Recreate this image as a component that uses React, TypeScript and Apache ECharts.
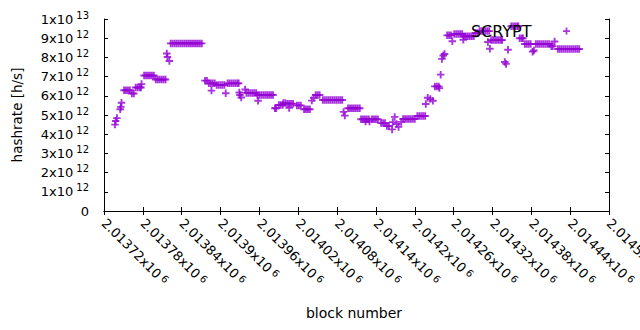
import React, { useEffect, useRef } from "react";
import * as echarts from "echarts";

// block numbers of each estimate
const blocks: number[] = [
  2013737, 2013738, 2013740, 2013745, 2013746, 2013747,
  2013751, 2013754, 2013757, 2013760,
  2013763, 2013766,
  2013769, 2013772, 2013775, 2013777, 2013778,
  2013782, 2013785, 2013788, 2013791, 2013794, 2013797,
  2013800, 2013803, 2013806, 2013809, 2013812, 2013815,
  2013817, 2013818, 2013821,
  2013823, 2013826, 2013829, 2013832, 2013835, 2013838, 2013841, 2013844, 2013847,
  2013850, 2013853, 2013856, 2013859, 2013862, 2013865, 2013868, 2013871,
  2013876, 2013879,
  2013882, 2013885, 2013888, 2013891, 2013886,
  2013894, 2013897, 2013900, 2013903, 2013906, 2013908,
  2013911, 2013914, 2013917, 2013920, 2013923, 2013926, 2013928,
  2013929, 2013930, 2013932, 2013938,
  2013940, 2013943, 2013946, 2013949, 2013952, 2013955,
  2013957, 2013960, 2013963, 2013966, 2013969, 2013972, 2013975, 2013978, 2013981, 2013958,
  2013984, 2013986,
  2013990, 2013993, 2013996,
  2013997, 2014000,
  2014003, 2014006, 2014009, 2014012, 2014006,
  2014018, 2014021, 2014024,
  2014029, 2014032, 2014035, 2014038,
  2014041, 2014044,
  2014047, 2014050, 2014053,
  2014058, 2014061, 2014064, 2014067, 2014070, 2014073, 2014076, 2014079, 2014082, 2014085, 2014088,
  2014090, 2014092,
  2014097, 2014100, 2014103, 2014106, 2014109, 2014112, 2014115,
  2014117, 2014120, 2014123, 2014126, 2014129, 2014124, 2014130,
  2014134, 2014137, 2014140, 2014143,
  2014148, 2014151, 2014154,
  2014157, 2014160,
  2014165, 2014166, 2014169,
  2014172, 2014175, 2014179,
  2014182, 2014185, 2014188, 2014191, 2014194, 2014197, 2014200,
  2014204, 2014207, 2014210, 2014213, 2014216,
  2014217, 2014220, 2014224, 2014228,
  2014231, 2014234, 2014237, 2014238,
  2014240, 2014242, 2014244, 2014246,
  2014250, 2014253, 2014256, 2014258,
  2014261, 2014264, 2014267, 2014270, 2014273, 2014275,
  2014276, 2014279, 2014282, 2014285, 2014288, 2014291,
  2014294, 2014297,
  2014300, 2014303, 2014306, 2014309, 2014312, 2014315,
  2014313, 2014316,
  2014318, 2014321, 2014324, 2014327, 2014330, 2014333, 2014335,
  2014339, 2014341, 2014344,
  2014349, 2014352, 2014355, 2014358, 2014360,
  2014362, 2014365, 2014367,
  2014370, 2014373, 2014376, 2014379,
  2014382, 2014384,
  2014387, 2014390, 2014393, 2014396, 2014399, 2014402, 2014405, 2014408,
  2014411, 2014413, 2014416,
  2014421, 2014424, 2014427, 2014430, 2014433, 2014436, 2014439, 2014442, 2014445, 2014448, 2014451, 2014454,
];

// hashrate in units of 10^12 h/s, same order as blocks
const hashrateT: number[] = [
  4.50, 4.69, 4.84, 5.30, 5.42, 5.64,
  6.29, 6.29, 6.29, 6.29,
  6.12, 6.12,
  6.43, 6.43, 6.43, 6.43, 6.61,
  7.06, 7.06, 7.06, 7.06, 7.06, 7.06,
  6.85, 6.85, 6.85, 6.85, 6.85, 6.85,
  8.20, 8.02, 7.81,
  8.73, 8.73, 8.73, 8.73, 8.73, 8.73, 8.73, 8.73, 8.73,
  8.73, 8.73, 8.73, 8.73, 8.73, 8.73, 8.73, 8.73,
  6.79, 6.79,
  6.65, 6.65, 6.65, 6.65, 6.27,
  6.56, 6.56, 6.56, 6.56, 6.56, 6.13,
  6.65, 6.65, 6.65, 6.65, 6.65, 6.65, 6.65,
  6.17, 6.04, 5.91, 6.33,
  6.15, 6.15, 6.15, 6.15, 6.15, 6.15,
  6.04, 6.04, 6.04, 6.04, 6.04, 6.04, 6.04, 6.04, 6.04, 5.74,
  5.35, 5.35,
  5.52, 5.52, 5.52,
  5.62, 5.62,
  5.59, 5.59, 5.59, 5.59, 5.37,
  5.50, 5.50, 5.50,
  5.30, 5.30, 5.30, 5.30,
  5.75, 5.90,
  6.04, 6.04, 6.04,
  5.78, 5.78, 5.78, 5.78, 5.78, 5.78, 5.78, 5.78, 5.78, 5.78, 5.78,
  5.16, 4.97,
  5.35, 5.35, 5.35, 5.35, 5.35, 5.35, 5.35,
  4.78, 4.78, 4.78, 4.78, 4.78, 4.66, 4.66,
  4.78, 4.78, 4.78, 4.78,
  4.58, 4.58, 4.58,
  4.43, 4.43,
  4.25, 4.63, 4.90,
  4.53, 4.38, 4.64,
  4.79, 4.79, 4.79, 4.79, 4.79, 4.79, 4.79,
  4.95, 4.95, 4.95, 4.95, 4.95,
  5.57, 5.90, 5.83, 5.74,
  6.49, 6.49, 6.49, 6.40,
  7.10, 7.92, 8.10, 8.18,
  9.15, 9.15, 9.15, 8.84,
  9.22, 9.22, 9.22, 9.22, 9.22, 8.92,
  9.10, 9.10, 9.10, 9.10, 9.10, 9.10,
  9.27, 9.27,
  9.37, 9.37, 9.37, 9.37, 9.37, 9.37,
  8.80, 8.45,
  8.90, 8.90, 8.90, 8.90, 8.90, 8.90, 8.90,
  7.76, 7.66, 8.40,
  9.62, 9.62, 9.62, 9.62, 9.62,
  9.00, 9.00, 9.00,
  8.70, 8.70, 8.70, 8.70,
  8.30, 8.36,
  8.70, 8.70, 8.70, 8.70, 8.70, 8.70, 8.70, 8.70,
  8.58, 8.58, 8.83,
  8.44, 8.44, 8.44, 8.44, 8.44, 8.44, 8.44, 8.44, 8.44, 8.44, 8.44, 8.44,
];

const seriesName = "SCRYPT";
const xMin = 2013720;
const xMax = 2014500;
const xStep = 60;
const yMin = 0;
const yMax = 1e13;
const yStep = 1e12;

const FONT = "DejaVu Sans";
const PURPLE = "#9400d3";
const CROSS = "path://M3,0H5V3H8V5H5V8H3V5H0V3H3Z";

function yLabel(v: number): string {
  if (v === 0) return "{a|0}";
  const exp = Math.floor(Math.log10(v) + 1e-9);
  const mant = Math.round(v / Math.pow(10, exp));
  return `{a|${mant}x10}{s|${exp}}`;
}

function xLabel(v: number): string {
  const m = parseFloat((v / 1e6).toFixed(5));
  return `{a|${m}x10}{s|6}`;
}

export default function App() {
  const ref = useRef<HTMLDivElement>(null);
  useEffect(() => {
    if (!ref.current) return;
    const chart = echarts.init(ref.current, undefined, { renderer: "svg" });
    const data = blocks.map((b, i) => [b, hashrateT[i] * 1e12]);
    const tick = { show: true, inside: true, length: 4, lineStyle: { color: "#000", width: 1 } };
    const line = { show: true, lineStyle: { color: "#000", width: 1 } };
    chart.setOption({
      animation: false,
      backgroundColor: "#fff",
      textStyle: { fontFamily: FONT, color: "#000" },
      grid: {
        left: 104,
        right: 31,
        top: 19,
        bottom: 119,
        containLabel: false,
        outerBoundsMode: "none",
      },
      legend: {
        data: [{ name: seriesName, icon: CROSS }],
        right: 70,
        top: 23,
        align: "right",
        itemWidth: 60,
        itemHeight: 7,
        padding: 0,
        selectedMode: false,
        textStyle: { fontFamily: FONT, fontSize: 16, color: "#000" },
        itemStyle: { color: PURPLE },
      },
      xAxis: [
        {
          type: "value",
          position: "bottom",
          min: xMin,
          max: xMax,
          interval: xStep,
          name: "block number",
          nameLocation: "middle",
          nameGap: 95,
          nameTextStyle: { fontFamily: FONT, fontSize: 14, color: "#000", padding: [0, 5, 0, 0] },
          axisLine: line,
          axisTick: tick,
          splitLine: { show: false },
          axisLabel: {
            rotate: -45,
            margin: 10,
            color: "#000",
            formatter: xLabel,
            rich: {
              a: { fontFamily: FONT, fontSize: 13, color: "#000" },
              s: { fontFamily: FONT, fontSize: 10, color: "#000", padding: [0, 0, 4, 3] },
            },
          },
        },
        {
          type: "value",
          position: "top",
          min: xMin,
          max: xMax,
          interval: xStep,
          axisLine: line,
          axisTick: tick,
          axisLabel: { show: false },
          splitLine: { show: false },
        },
      ],
      yAxis: [
        {
          type: "value",
          position: "left",
          min: yMin,
          max: yMax,
          interval: yStep,
          name: "hashrate [h/s]",
          nameLocation: "middle",
          nameRotate: 90,
          nameGap: 80,
          nameTextStyle: { fontFamily: FONT, fontSize: 13.5, color: "#000" },
          axisLine: line,
          axisTick: tick,
          splitLine: { show: false },
          axisLabel: {
            margin: 15,
            color: "#000",
            formatter: yLabel,
            rich: {
              a: { fontFamily: FONT, fontSize: 13, color: "#000" },
              s: { fontFamily: FONT, fontSize: 10, color: "#000", padding: [0, 0, 8, 3] },
            },
          },
        },
        {
          type: "value",
          position: "right",
          min: yMin,
          max: yMax,
          interval: yStep,
          axisLine: line,
          axisTick: tick,
          axisLabel: { show: false },
          splitLine: { show: false },
        },
      ],
      series: [
        {
          name: seriesName,
          type: "scatter",
          xAxisIndex: 0,
          yAxisIndex: 0,
          symbol: CROSS,
          symbolSize: 7.5,
          itemStyle: { color: PURPLE },
          emphasis: { disabled: true },
          data,
        },
      ],
    });
    return () => chart.dispose();
  }, []);
  return (
    <div
      ref={ref}
      style={{ position: "fixed", left: 0, top: 0, width: 640, height: 330 }}
    />
  );
}
